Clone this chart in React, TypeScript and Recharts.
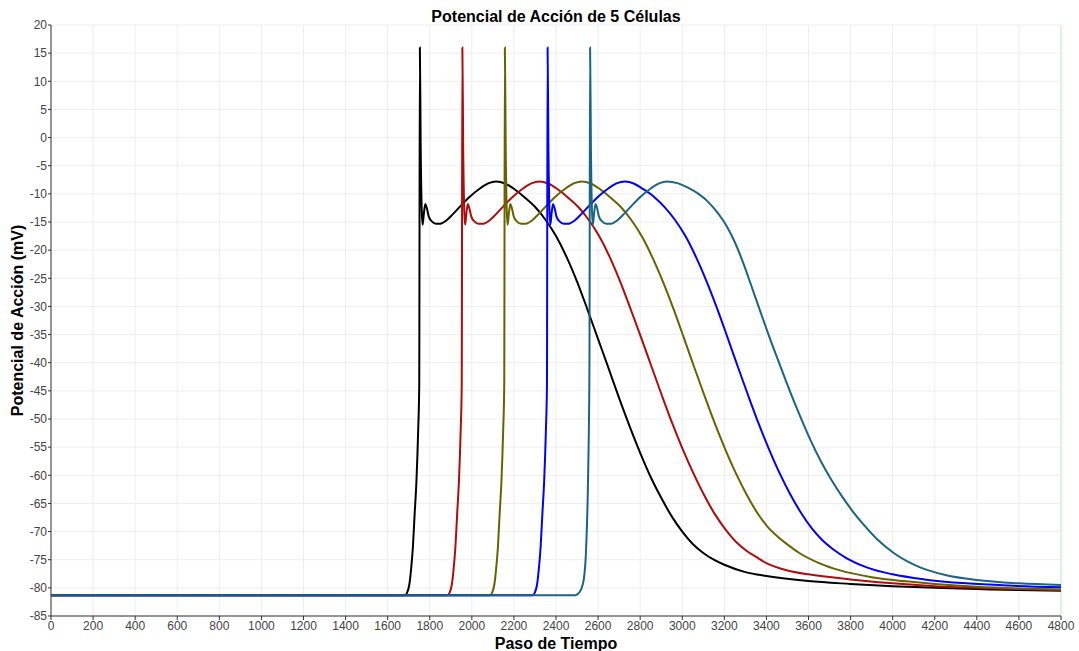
import React from 'react'
import {
  LineChart,
  Line,
  XAxis,
  YAxis,
  CartesianGrid,
  ReferenceLine,
} from 'recharts'

// Paso de tiempo / potencial (mV)
const celula1: [number, number][] = [
  [0, -81.3], [1000, -81.3], [1682, -81.3], [1693, -80.8], [1703, -79.4], [1711, -76.8],
  [1720, -72.7], [1728, -67], [1737, -60.8], [1745, -52], [1750, -44], [1753, 16], [1757, -2],
  [1762, -13], [1766, -15.5], [1772, -13.5], [1779, -11.8], [1786, -12.5], [1795, -14],
  [1810, -14.9], [1830, -15.3], [1850, -15.3], [1880, -14.7], [1910, -13.6], [1940, -12.4],
  [1990, -10.5], [2040, -9.0], [2080, -8.1], [2115, -7.8], [2160, -8.2], [2200, -9.1],
  [2250, -10.6], [2300, -12.3], [2350, -14.6], [2400, -17.5], [2450, -21.2], [2500, -25.6],
  [2550, -30.6], [2600, -35.8], [2650, -41], [2700, -46.3], [2750, -51.3], [2800, -56],
  [2850, -60.3], [2900, -64], [2950, -67.3], [3000, -70], [3050, -72.2], [3100, -73.8],
  [3150, -75.0], [3200, -75.9], [3300, -77.2], [3400, -77.9], [3600, -78.8], [3800, -79.3],
  [4000, -79.7], [4200, -80], [4400, -80.2], [4600, -80.4], [4800, -80.5],
]

const celula2: [number, number][] = [
  [0, -81.3], [1000, -81.3], [1884, -81.3], [1895, -80.8], [1905, -79.4], [1913, -76.8],
  [1922, -72.7], [1930, -67], [1939, -60.8], [1947, -52], [1952, -44], [1955, 16], [1959, -2],
  [1964, -13], [1968, -15.5], [1974, -13.5], [1981, -11.8], [1988, -12.5], [1997, -14],
  [2012, -14.9], [2032, -15.3], [2055, -15.3], [2085, -14.7], [2115, -13.6], [2145, -12.4],
  [2195, -10.5], [2245, -9.0], [2285, -8.1], [2320, -7.8], [2365, -8.2], [2405, -9.1],
  [2455, -10.6], [2505, -12.3], [2555, -14.6], [2605, -17.5], [2655, -21.2], [2705, -25.6],
  [2755, -30.5], [2805, -35.6], [2855, -40.8], [2905, -46], [2955, -51], [3005, -55.6],
  [3055, -59.8], [3105, -63.6], [3155, -66.9], [3205, -69.6], [3255, -71.8], [3305, -73.4],
  [3355, -74.6], [3400, -75.6], [3500, -76.9], [3600, -77.6], [3800, -78.5], [4000, -79.2],
  [4200, -79.7], [4400, -80], [4600, -80.2], [4800, -80.4],
]

const celula3: [number, number][] = [
  [0, -81.3], [1000, -81.3], [2086, -81.3], [2097, -80.8], [2107, -79.4], [2115, -76.8],
  [2124, -72.7], [2132, -67], [2141, -60.8], [2149, -52], [2154, -44], [2157, 16], [2161, -2],
  [2166, -13], [2170, -15.5], [2176, -13.5], [2183, -11.8], [2190, -12.5], [2199, -14],
  [2214, -14.9], [2234, -15.3], [2257, -15.3], [2287, -14.7], [2317, -13.6], [2347, -12.4],
  [2397, -10.5], [2447, -9.0], [2487, -8.1], [2522, -7.8], [2567, -8.2], [2607, -9.1],
  [2657, -10.6], [2707, -12.3], [2757, -14.6], [2807, -17.5], [2857, -21.2], [2907, -25.5],
  [2957, -30.3], [3007, -35.5], [3057, -40.8], [3107, -46], [3157, -51], [3207, -55.6],
  [3257, -59.8], [3307, -63.5], [3357, -66.7], [3407, -69.2], [3457, -71], [3507, -72.5],
  [3560, -73.9], [3650, -75.6], [3750, -76.9], [3900, -78.1], [4050, -78.8], [4200, -79.3],
  [4400, -79.8], [4600, -80.1], [4800, -80.3],
]

const celula4: [number, number][] = [
  [0, -81.3], [1000, -81.3], [2289, -81.3], [2300, -80.8], [2310, -79.4], [2318, -76.8],
  [2327, -72.7], [2335, -67], [2344, -60.8], [2352, -52], [2357, -44], [2360, 16], [2364, -2],
  [2369, -13], [2373, -15.5], [2379, -13.5], [2386, -11.8], [2393, -12.5], [2402, -14],
  [2417, -14.9], [2437, -15.3], [2460, -15.3], [2490, -14.7], [2520, -13.6], [2550, -12.4],
  [2600, -10.5], [2650, -9.0], [2690, -8.1], [2727, -7.8], [2772, -8.2], [2812, -9.1],
  [2865, -10.5], [2915, -12.3], [2965, -14.6], [3015, -17.5], [3065, -21.2], [3115, -25.5],
  [3165, -30.3], [3215, -35.5], [3265, -40.8], [3315, -46], [3365, -51], [3415, -55.6],
  [3465, -59.8], [3515, -63.5], [3565, -66.7], [3615, -69.4], [3665, -71.5], [3715, -73.1],
  [3780, -74.7], [3880, -76.4], [4000, -77.6], [4150, -78.5], [4350, -79.2], [4550, -79.6],
  [4800, -79.9],
]

const celula5: [number, number][] = [
  [0, -81.3], [1000, -81.3], [2492, -81.3], [2506, -81.0], [2520, -80.2], [2532, -78.5],
  [2542, -74], [2550, -65], [2555, -55], [2559, -40], [2562, 16], [2566, -2],
  [2571, -13], [2575, -15.5], [2581, -13.5], [2588, -11.8], [2595, -12.5], [2604, -14],
  [2619, -14.9], [2639, -15.3], [2662, -15.3], [2692, -14.7], [2722, -13.6], [2752, -12.4],
  [2802, -10.5], [2852, -9.0], [2892, -8.1], [2927, -7.8], [2977, -8.1], [3027, -8.9],
  [3077, -10.0], [3117, -11.2], [3160, -13.0], [3212, -15.8], [3250, -18.6], [3290, -22.3],
  [3330, -26.5], [3370, -30.8], [3410, -35], [3460, -40], [3510, -44.9], [3560, -49.5],
  [3610, -53.8], [3660, -57.6], [3710, -60.9], [3760, -63.8], [3810, -66.4], [3865, -68.9],
  [3930, -71.5], [4005, -73.8], [4070, -75.3], [4133, -76.4], [4250, -77.7], [4400, -78.6],
  [4600, -79.2], [4800, -79.5],
]

const xTicks = [
  0, 200, 400, 600, 800, 1000, 1200, 1400, 1600, 1800, 2000, 2200, 2400,
  2600, 2800, 3000, 3200, 3400, 3600, 3800, 4000, 4200, 4400, 4600, 4800,
]
const yTicks = [
  -85, -80, -75, -70, -65, -60, -55, -50, -45, -40, -35, -30, -25, -20,
  -15, -10, -5, 0, 5, 10, 15, 20,
]

const series = [
  { name: 'Célula 1', values: celula1, color: '#000000' },
  { name: 'Célula 2', values: celula2, color: '#b00c0c' },
  { name: 'Célula 3', values: celula3, color: '#666300' },
  { name: 'Célula 4', values: celula4, color: '#0000ff' },
  { name: 'Célula 5', values: celula5, color: '#1b6584' },
]

const font = '"Liberation Sans", Arial, sans-serif'

export default function App() {
  return (
    <div style={{ position: 'absolute', left: 0, top: 0, width: 1079, height: 651, background: '#fff', fontFamily: font }}>
      <div
        style={{
          position: 'absolute',
          left: 51,
          width: 1010,
          top: 8,
          textAlign: 'center',
          fontSize: 16,
          fontWeight: 'bold',
          lineHeight: '18px',
          color: '#000',
        }}
      >
        Potencial de Acción de 5 Células
      </div>
      <LineChart width={1079} height={651} margin={{ top: 25, right: 18, bottom: 0, left: 0 }}>
        <CartesianGrid stroke="#eeeeee" horizontalValues={yTicks} verticalValues={xTicks} />
        <XAxis
          type="number"
          dataKey="t"
          domain={[0, 4800]}
          ticks={xTicks}
          interval={0}
          height={35}
          tickSize={4}
          tickMargin={1}
          stroke="#333"
          tick={{ fill: '#444', fontSize: 12, fontFamily: font }}
          label={{ value: 'Paso de Tiempo', position: 'insideBottom', offset: 2, style: { fontSize: 16, fontWeight: 'bold', fill: '#000', fontFamily: font } }}
        />
        <YAxis
          type="number"
          domain={[-85, 20]}
          ticks={yTicks}
          interval={0}
          width={51}
          tickSize={3}
          tickMargin={1}
          stroke="#333"
          tick={{ fill: '#444', fontSize: 12, fontFamily: font }}
          label={{ value: 'Potencial de Acción (mV)', angle: -90, position: 'insideLeft', offset: 17, style: { textAnchor: 'middle', fontSize: 16, fontWeight: 'bold', fill: '#000', fontFamily: font } }}
        />
        <ReferenceLine x={4800} stroke="#c8efc8" />
        {series.map((s) => (
          <Line
            key={s.name}
            name={s.name}
            data={s.values.map(([t, v]) => ({ t, v }))}
            dataKey="v"
            type="monotone"
            stroke={s.color}
            strokeWidth={2}
            dot={false}
            isAnimationActive={false}
          />
        ))}
      </LineChart>
    </div>
  )
}
